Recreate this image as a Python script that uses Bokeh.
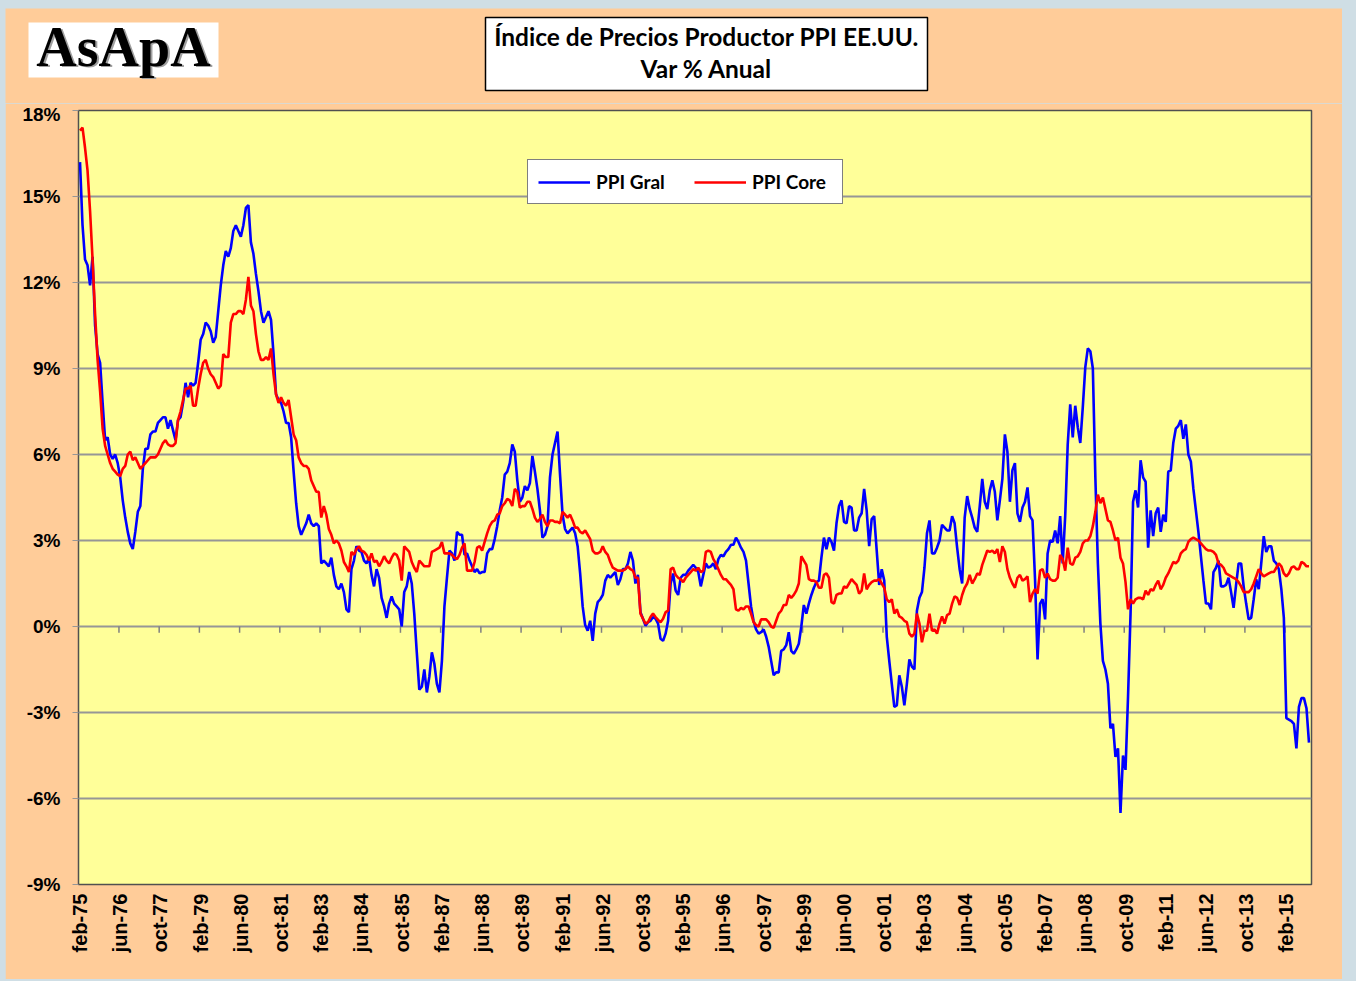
import math
from bokeh.plotting import figure
from bokeh.models import Range1d, FixedTicker, Legend, LegendItem, ColumnDataSource
from bokeh.layouts import column
from bokeh.embed import file_html
from bokeh.resources import INLINE
from bokeh.core.properties import value

# ---------------- DATA (monthly, starting feb-75) ----------------
first_month = "feb-75"

tick_labels = ["feb-75", "jun-76", "oct-77", "feb-79", "jun-80", "oct-81", "feb-83", "jun-84",
               "oct-85", "feb-87", "jun-88", "oct-89", "feb-91", "jun-92", "oct-93", "feb-95",
               "jun-96", "oct-97", "feb-99", "jun-00", "oct-01", "feb-03", "jun-04", "oct-05",
               "feb-07", "jun-08", "oct-09", "feb-11", "jun-12", "oct-13", "feb-15"]
tick_every = 16  # months between labels

y_ticks = [-9, -6, -3, 0, 3, 6, 9, 12, 15, 18]

# PPI Gral (% y/y)
gral_1975_1980 = [16.2, 14.0, 12.8, 12.6, 11.9, 12.9, 10.5, 9.5, 9.2, 7.8,
                  6.5, 6.6, 6.0, 5.85, 6.0, 5.7, 5.2, 4.4, 3.8, 3.3,
                  2.9, 2.7, 3.3, 4.0, 4.2, 5.5, 6.2, 6.2, 6.7, 6.8,
                  6.8, 7.1, 7.2, 7.3, 7.3, 6.9, 7.2, 6.85, 6.5, 7.2,
                  7.3, 7.8, 8.5, 8.0, 8.5, 8.4, 8.5, 9.2, 10.0, 10.2,
                  10.6, 10.5, 10.3, 9.9, 10.1, 11.0, 11.9, 12.6, 13.1, 12.9,
                  13.2, 13.8, 14.0, 13.8,
                  13.6, 14.0, 14.6, 14.7, 13.4, 13.0, 12.3, 11.7, 11.0, 10.6,
                  10.8, 11.0, 10.7, 9.5]
gral_1981_1985 = [8.1, 7.9, 7.8, 7.5, 7.1, 7.1, 6.6, 5.4, 4.3, 3.5,
                  3.2, 3.4, 3.6, 3.9, 3.6, 3.5, 3.6, 3.5, 2.2, 2.3,
                  2.2, 2.1, 2.4, 1.8, 1.4, 1.3, 1.5, 1.2, 0.6, 0.5,
                  2.0, 2.3, 2.8, 2.65, 2.6, 2.3, 2.2, 2.4, 1.8, 1.4,
                  2.0, 1.7, 1.0, 0.7, 0.3, 0.8, 1.05, 0.8]
gral_1985_1990 = [0.7, 0.6, 0.0, 1.2, 1.4, 1.9, 1.5, 0.45, -0.9, -2.2,
                  -2.1, -1.5, -2.3, -1.75, -0.9, -1.3, -2.0, -2.3, -1.2, 0.7,
                  1.7, 2.65, 2.55, 2.3, 3.3, 3.2, 3.2, 2.5, 2.55, 2.3,
                  2.1, 1.9, 2.0, 1.85, 1.9, 1.9, 2.55, 2.7, 2.7, 3.05,
                  3.5, 4.05, 4.5, 5.3, 5.4, 5.7, 6.35, 6.1, 5.1, 4.35,
                  4.5, 4.9, 4.75, 5.0, 5.95, 5.4, 4.8, 4.05, 3.1, 3.2,
                  3.5, 5.2]
gral_1990_1995 = [6.0, 6.4, 6.8, 5.3, 3.9, 3.4, 3.25, 3.35, 3.45, 3.25,
                  2.8, 1.85, 0.7, 0.05, -0.15, 0.2, -0.5, 0.45, 0.85, 0.95,
                  1.1, 1.6, 1.8, 1.7, 1.8, 1.9, 1.45, 1.65, 2.0, 2.0,
                  2.2, 2.6, 2.3, 1.5, 1.8, 0.5, 0.27, 0.03, 0.15, 0.2,
                  0.33, 0.27, 0.1, -0.43, -0.5, -0.25, 0.2, 1.5, 1.85, 1.25,
                  1.1, 1.7, 1.8, 1.8, 1.95, 2.05, 2.15, 2.05]
gral_1995_2000 = [1.9, 1.4, 1.8, 2.2, 2.05, 2.1, 2.2, 2.0, 2.35, 2.5,
                  2.45, 2.6, 2.7, 2.85, 2.85, 3.1, 2.95, 2.75, 2.6, 2.3,
                  1.5, 0.7, 0.2, -0.1, -0.25, -0.2, -0.1, -0.35, -0.7, -1.2,
                  -1.7, -1.6, -1.6, -0.85, -0.8, -0.65, -0.2, -0.85, -0.95, -0.8,
                  -0.6, 0.0, 0.75, 0.45, 0.8, 1.1, 1.35, 1.55, 1.6, 2.4,
                  3.1, 2.7, 3.1, 2.95, 2.65, 3.6, 4.2, 4.4, 3.65, 3.6,
                  4.2]
gral_2000_2005 = [4.15, 3.35, 3.35, 3.8, 3.95, 4.8, 4.05, 2.8, 3.75, 3.85,
                  2.65, 1.45, 2.0, 1.6, -0.35, -1.2, -2.0, -2.8, -2.75, -1.7,
                  -2.1, -2.75, -2.0, -1.15, -1.4, -1.5, 0.55, 1.0, 1.2, 2.05,
                  3.25, 3.7, 2.55, 2.55, 2.75, 3.0, 3.55, 3.45, 3.35, 3.35,
                  3.85, 3.6, 2.75, 2.0, 1.5, 3.8, 4.55, 4.1, 3.8, 3.45,
                  3.3, 4.2, 5.15, 4.35, 4.1, 4.75, 5.1, 4.7, 3.7, 4.4,
                  5.15]
gral_2005_2010 = [6.7, 6.1, 4.35, 5.45, 5.7, 3.95, 3.65, 4.15, 4.35, 4.85,
                  3.85, 3.7, 1.65, -1.15, 0.8, 0.95, 0.25, 2.55, 3.0, 2.95,
                  3.35, 2.9, 3.85, 2.2, 3.85, 6.35, 7.75, 6.6, 7.7, 6.95,
                  6.4, 7.65, 9.05, 9.7, 9.6, 9.0, 5.2, 2.2, 0.1, -1.2,
                  -1.5, -2.0, -3.55, -3.4, -4.55, -4.25, -6.5, -4.5, -5.0, -2.45,
                  0.45, 4.35, 4.75, 4.15, 5.8, 5.2, 5.05, 2.75, 4.05, 3.15,
                  3.95, 4.15, 3.3, 3.9]
gral_2011_2015 = [3.65, 5.4, 5.45, 6.4, 6.9, 7.0, 7.2, 6.55, 7.05, 6.0,
                  5.75, 4.8, 4.05, 3.3, 2.45, 1.6, 0.8, 0.8, 0.6, 1.9,
                  2.05, 2.3, 1.4, 1.4, 1.45, 1.7, 1.2, 0.65, 1.45, 2.2,
                  2.2, 1.4, 0.8, 0.25, 0.3, 0.95, 1.65, 1.3, 2.2, 3.15,
                  2.6, 2.8, 2.8, 2.3, 2.2, 2.0, 1.3, 0.3, -3.2, -3.25,
                  -3.3, -3.4, -4.25, -2.8, -2.5, -2.5, -2.85, -4.05]

# PPI Core (% y/y)
core_1975_1980 = [17.3, 17.4, 16.7, 15.9, 14.5, 12.8, 10.9, 9.3, 8.2, 6.9,
                  6.3, 6.0, 5.7, 5.5, 5.4, 5.3, 5.25, 5.5, 5.6, 6.0,
                  6.1, 5.8, 5.9, 5.7, 5.5, 5.6, 5.7, 5.8, 5.9, 5.9,
                  5.9, 6.0, 6.2, 6.4, 6.5, 6.35, 6.3, 6.3, 6.4, 7.2,
                  7.5, 7.9, 8.3, 8.3, 8.4, 7.7, 7.7, 8.3, 8.8, 9.2,
                  9.3, 9.0, 8.8, 8.7, 8.5, 8.3, 8.4, 9.5, 9.4, 9.4,
                  10.6, 10.9, 10.9, 11.0,
                  11.0, 10.9, 11.4, 12.2, 11.2, 11.0, 10.2, 9.6, 9.3, 9.3,
                  9.4, 9.3, 9.7, 8.8]
core_1981_1985 = [8.1, 7.8, 8.0, 7.8, 7.7, 7.9, 7.3, 6.7, 6.5, 5.9,
                  5.7, 5.6, 5.6, 5.5, 5.1, 4.9, 4.7, 4.7, 3.8, 4.2,
                  3.9, 3.4, 3.2, 2.9, 3.0, 2.9, 2.65, 2.25, 2.1, 1.9,
                  2.6, 2.5, 2.7, 2.8, 2.65, 2.6, 2.5, 2.3, 2.55, 2.25,
                  2.3, 2.1, 2.25, 2.45, 2.3, 2.2, 2.4, 2.55]
core_1985_1990 = [2.5, 2.3, 1.6, 2.8, 2.7, 2.6, 2.25, 2.05, 1.9, 2.3,
                  2.2, 2.1, 2.1, 2.1, 2.6, 2.65, 2.7, 2.75, 2.95, 2.55,
                  2.55, 2.55, 2.5, 2.4, 2.35, 2.5, 2.75, 2.9, 1.95, 1.95,
                  1.95, 2.25, 2.75, 2.8, 2.65, 2.95, 3.25, 3.5, 3.65, 3.7,
                  3.9, 3.95, 4.2, 4.3, 4.45, 4.4, 4.2, 4.8, 4.7, 4.15,
                  4.2, 4.2, 4.35, 4.35, 4.1, 3.8, 3.65, 3.75, 3.9, 3.65,
                  3.5, 3.7]
core_1990_1995 = [3.7, 3.65, 3.65, 3.6, 4.0, 3.9, 3.8, 3.9, 3.7, 3.45,
                  3.45, 3.3, 3.25, 3.35, 3.2, 3.05, 2.65, 2.55, 2.55, 2.6,
                  2.8, 2.6, 2.5, 2.25, 2.05, 2.0, 1.95, 1.95, 1.95, 2.0,
                  2.1, 2.0, 1.95, 1.7, 1.7, 0.45, 0.27, 0.1, 0.15, 0.33,
                  0.45, 0.33, 0.23, 0.15, 0.27, 0.5, 0.55, 2.0, 2.05, 1.8,
                  1.7, 1.65, 1.55, 1.7, 1.8, 1.9, 2.0, 1.95]
core_1995_2000 = [2.05, 1.9, 1.95, 2.6, 2.65, 2.6, 2.35, 2.2, 2.0, 1.8,
                  1.65, 1.65, 1.55, 1.45, 1.3, 0.6, 0.55, 0.65, 0.6, 0.7,
                  0.7, 0.45, 0.15, 0.05, 0.0, 0.25, 0.25, 0.25, 0.15, 0.0,
                  -0.05, 0.2, 0.45, 0.55, 0.75, 0.75, 1.1, 1.0, 1.1, 1.25,
                  1.5, 2.45, 2.3, 2.15, 1.65, 1.6, 1.6, 1.55, 1.35, 1.35,
                  1.8, 1.85, 1.7, 0.85, 0.8, 1.1, 1.15, 1.15, 1.4, 1.35,
                  1.5]
core_2000_2005 = [1.65, 1.55, 1.45, 1.15, 1.25, 1.85, 1.3, 1.45, 1.55, 1.6,
                  1.6, 1.65, 1.5, 1.35, 0.95, 0.85, 0.95, 0.45, 0.6, 0.35,
                  0.3, 0.2, 0.15, -0.25, -0.35, -0.25, 0.45, 0.1, -0.55, -0.15,
                  -0.15, 0.45, -0.15, -0.1, -0.25, 0.1, 0.35, 0.1, 0.4, 0.45,
                  0.8, 1.05, 1.0, 0.75, 1.1, 1.35, 1.5, 1.8, 1.5, 1.65,
                  1.85, 1.8, 2.15, 2.4, 2.65, 2.6, 2.65, 2.55, 2.7, 2.25,
                  2.8]
core_2005_2010 = [2.6, 2.0, 1.7, 1.5, 1.35, 1.7, 1.8, 1.6, 1.65, 1.75,
                  0.85, 1.15, 1.3, 1.15, 1.95, 2.0, 1.7, 1.85, 1.65, 1.6,
                  1.6, 1.7, 2.5, 2.35, 1.95, 2.75, 2.2, 2.15, 2.4, 2.45,
                  2.6, 2.9, 3.0, 3.0, 3.15, 3.5, 4.0, 4.6, 4.3, 4.5,
                  4.1, 3.7, 3.65, 3.35, 3.0, 3.1, 2.4, 2.2, 1.55, 0.6,
                  0.95, 0.8, 0.95, 1.0, 1.0, 0.95, 1.25, 1.1, 1.3, 1.25,
                  1.45, 1.6, 1.3, 1.45]
core_2011_2015 = [1.7, 1.85, 2.05, 2.25, 2.2, 2.3, 2.55, 2.65, 2.7, 2.95,
                  3.05, 3.1, 3.05, 3.0, 2.9, 2.8, 2.7, 2.65, 2.65, 2.6,
                  2.5, 2.2, 2.15, 2.05, 1.85, 1.8, 1.75, 1.7, 1.65, 1.55,
                  1.4, 1.2, 1.2, 1.2, 1.3, 1.5, 1.75, 2.0, 1.85, 1.75,
                  1.8, 1.85, 1.9, 1.9, 2.05, 2.2, 2.1, 1.85, 1.75, 1.85,
                  2.05, 2.1, 2.0, 2.0, 2.25, 2.2, 2.1, 2.1]

ppi_gral = (gral_1975_1980 + gral_1981_1985 + gral_1985_1990 + gral_1990_1995 +
            gral_1995_2000 + gral_2000_2005 + gral_2005_2010 + gral_2011_2015)
ppi_core = (core_1975_1980 + core_1981_1985 + core_1985_1990 + core_1990_1995 +
            core_1995_2000 + core_2000_2005 + core_2005_2010 + core_2011_2015)
month_idx = list(range(len(ppi_gral)))

# ---------------- STYLE ----------------
PEACH = "#FFCC99"
PLOT_BG = "#FFFF99"
GRID = "#969696"
W = 1337
HEAD_H = 95
MAIN_H = 876
AX_FONT = "Liberation Sans"
TXT_FONT = "Lato"

# ---------------- HEADER (logo + title boxes) ----------------
head = figure(width=W, height=HEAD_H, x_range=Range1d(0, W), y_range=Range1d(HEAD_H, 0),
              output_backend="svg", toolbar_location=None, min_border=0,
              x_axis_location=None, y_axis_location=None)
head.frame_align = False
head.grid.visible = False
head.outline_line_color = None
head.background_fill_color = PEACH
head.border_fill_color = PEACH

head.quad(left=[23], right=[213], top=[14], bottom=[69], fill_color="white", line_color=None)
head.text(x=[120], y=[39], text=["AsApA"], text_align="center", text_baseline="middle",
          text_font=value("Liberation Serif"), text_font_style="bold", text_font_size="56px",
          text_color="#a0a0a0")
head.text(x=[118], y=[38], text=["AsApA"], text_align="center", text_baseline="middle",
          text_font=value("Liberation Serif"), text_font_style="bold", text_font_size="56px",
          text_color="black")

head.quad(left=[480], right=[922], top=[9], bottom=[82], fill_color="white",
          line_color="black", line_width=1.5)
head.text(x=[701, 701], y=[28, 60], text=["Índice de Precios Productor PPI EE.UU.", "Var % Anual"],
          text_align="center", text_baseline="middle", text_font=value(TXT_FONT),
          text_font_style="bold", text_font_size="24.5px", text_color="black")

# ---------------- MAIN CHART ----------------
p = figure(width=W, height=MAIN_H, x_range=Range1d(-0.6, 490.0), y_range=Range1d(-9, 18),
           output_backend="svg", toolbar_location=None,
           min_border_left=73, min_border_right=31, min_border_top=7, min_border_bottom=95)
p.frame_align = False
p.background_fill_color = PLOT_BG
p.border_fill_color = PEACH
p.outline_line_color = "#505050"
p.outline_line_width = 1.5

# y axis
p.yaxis.ticker = FixedTicker(ticks=y_ticks)
p.yaxis.major_label_overrides = {t: f"{t}%" for t in y_ticks}
p.yaxis.major_label_text_font = AX_FONT
p.yaxis.major_label_text_font_style = "bold"
p.yaxis.major_label_text_font_size = "19px"
p.yaxis.major_label_text_color = "black"
p.yaxis.axis_line_color = None
p.yaxis.major_tick_line_color = GRID
p.yaxis.major_tick_out = 6
p.yaxis.major_tick_in = 0
p.yaxis.minor_tick_line_color = None
p.yaxis.major_label_standoff = 12

# x axis
tick_pos = [i * tick_every for i in range(len(tick_labels))]
p.xaxis.ticker = FixedTicker(ticks=tick_pos)
p.xaxis.major_label_overrides = {t: lab for t, lab in zip(tick_pos, tick_labels)}
p.xaxis.major_label_orientation = math.pi / 2
p.xaxis.major_label_text_font = AX_FONT
p.xaxis.major_label_text_font_style = "bold"
p.xaxis.major_label_text_font_size = "20px"
p.xaxis.major_label_text_color = "black"
p.xaxis.axis_line_color = None
p.xaxis.major_tick_line_color = None
p.xaxis.minor_tick_line_color = None
p.xaxis.major_tick_out = 0
p.xaxis.major_label_standoff = 9

p.xgrid.visible = False
p.ygrid.grid_line_color = GRID
p.ygrid.grid_line_width = 2

# tick marks on the 0% line (category boundaries)
p.segment(x0=[t - 0.5 for t in tick_pos[1:]], x1=[t - 0.5 for t in tick_pos[1:]],
          y0=[0] * (len(tick_pos) - 1), y1=[-0.22] * (len(tick_pos) - 1),
          line_color="#808080", line_width=1.5)

src = ColumnDataSource(dict(m=month_idx, gral=ppi_gral, core=ppi_core))
r_gral = p.line("m", "gral", source=src, line_color="#0000FF", line_width=2.6)
r_core = p.line("m", "core", source=src, line_color="#FF0000", line_width=2.6)

legend = Legend(items=[LegendItem(label="PPI Gral", renderers=[r_gral]),
                       LegendItem(label="PPI Core", renderers=[r_core])],
                location=(449, 680), orientation="horizontal",
                border_line_color="black", border_line_width=1.5,
                background_fill_color="white", background_fill_alpha=1.0,
                label_text_font=TXT_FONT, label_text_font_style="bold",
                label_text_font_size="19px", label_text_color="black",
                glyph_width=52, glyph_height=20, label_standoff=6, label_width=80,
                spacing=18, padding=10, margin=0)
p.add_layout(legend)

layout = column(head, p, spacing=0)

page_css = """{% block postamble %}<style>
html body { background-color: #CFDEE5 !important; padding: 8px 0 0 5px !important; margin: 0 !important; }
</style>{% endblock %}"""

open("out.html", "w").write(file_html(layout, INLINE, template=page_css))
